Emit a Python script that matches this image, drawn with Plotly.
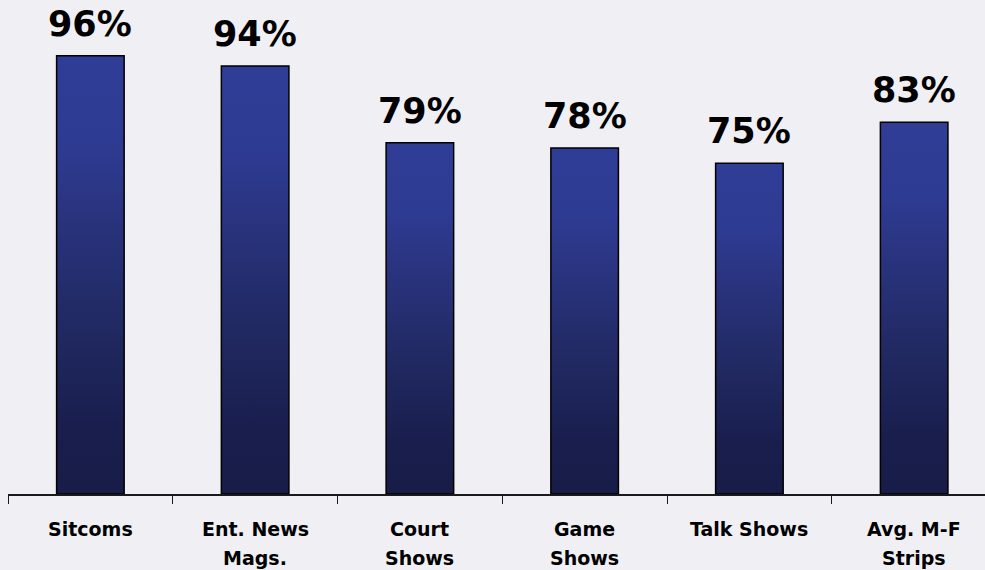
import plotly.graph_objects as go

categories = ["Sitcoms", "Ent. News<br>Mags.", "Court<br>Shows", "Game<br>Shows", "Talk Shows", "Avg. M-F<br>Strips"]
values = [96, 94, 79, 78, 75, 83]
value_labels = ["96%", "94%", "79%", "78%", "75%", "83%"]

Y_MIN = 10.4
Y_MAX = 106.9
HALF_W = 0.205
BAR_SCALE = [[0, "#171C48"], [0.15, "#191E4D"], [0.4, "#212A63"], [0.65, "#2A3480"], [0.8, "#2E3B92"], [1, "#2F3D96"]]
BG = "#F0F0F4"

fig = go.Figure()

for i, v in enumerate(values):
    xs = [i - HALF_W, i - HALF_W, i + HALF_W, i + HALF_W, i - HALF_W]
    ys = [Y_MIN, v, v, Y_MIN, Y_MIN]
    fig.add_trace(go.Scatter(
        x=xs, y=ys, mode="lines", fill="toself",
        line=dict(color="#000000", width=1.5),
        fillgradient=dict(type="vertical", start=Y_MIN, stop=v, colorscale=BAR_SCALE),
        hoverinfo="skip", showlegend=False,
    ))
    fig.add_annotation(x=i, y=v, xref="x", yref="y", text=value_labels[i],
                       showarrow=False, yanchor="middle", yshift=32,
                       font=dict(family="DejaVu Sans", size=35, color="#000000", weight="bold"))

for i, c in enumerate(categories):
    for k, line in enumerate(c.split("<br>")):
        fig.add_annotation(x=i, y=0, xref="x", yref="paper", text=line,
                           showarrow=False, yanchor="middle", yshift=-35 - 29 * k,
                           font=dict(family="DejaVu Sans", size=19, color="#000000", weight="bold"))

boundaries = [i - 0.5 for i in range(len(categories) + 1)]

fig.update_layout(
    width=985, height=570,
    margin=dict(l=8, r=0, t=0, b=76),
    paper_bgcolor=BG,
    plot_bgcolor=BG,
    xaxis=dict(range=[-0.5, 5.43], showgrid=False, zeroline=False,
               showline=True, linecolor="#1A1A1A", linewidth=1.5,
               tickmode="array", tickvals=boundaries, ticks="outside",
               ticklen=8, tickcolor="#1A1A1A", tickwidth=1.2,
               showticklabels=False, fixedrange=True),
    yaxis=dict(range=[Y_MIN, Y_MAX], visible=False, fixedrange=True),
)

fig.write_html(
    "out.html",
    config={"displayModeBar": False},
    post_script="document.body.style.margin='0';document.body.style.overflow='hidden';document.body.style.background='" + BG + "';",
)
